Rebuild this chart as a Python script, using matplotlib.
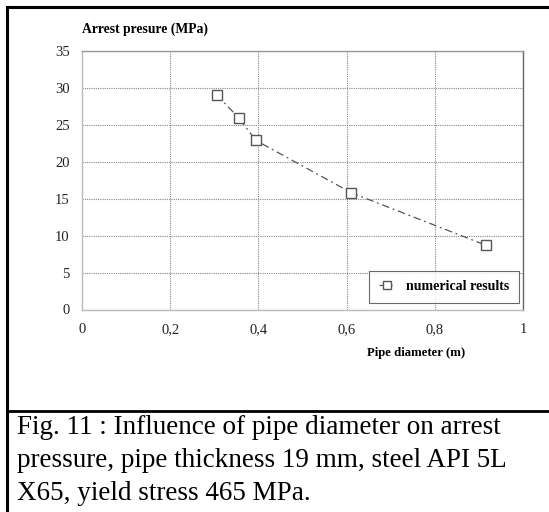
import matplotlib
matplotlib.use("Agg")
import matplotlib.pyplot as plt
from matplotlib.lines import Line2D

diameter = [0.305, 0.356, 0.394, 0.611, 0.916]
pressure = [29.1, 25.9, 22.9, 15.8, 8.7]
x_ticks = [0, 0.2, 0.4, 0.6, 0.8, 1.0]
x_tick_labels = ["0", "0,2", "0,4", "0,6", "0,8", "1"]
y_ticks = [0, 5, 10, 15, 20, 25, 30, 35]
series_label = "numerical results"
y_title = "Arrest presure (MPa)"
x_title = "Pipe diameter (m)"
caption = ["Fig. 11 : Influence of pipe diameter on arrest",
           "pressure, pipe thickness 19 mm, steel API 5L",
           "X65, yield stress 465 MPa."]

plt.rcParams['font.family'] = ['Liberation Serif', 'DejaVu Serif']

W, H = 549, 512
fig = plt.figure(figsize=(W / 100, H / 100), dpi=100)

def fx(px):
    return px / W

def fy(py):
    return 1 - py / H

ax_l, ax_r, ax_t, ax_b = 82, 523, 51, 309.5
ax = fig.add_axes([fx(ax_l), fy(ax_b), (ax_r - ax_l) / W, (ax_b - ax_t) / H])

ax.plot(diameter, pressure, linestyle=(0, (6, 3, 1.5, 3)), color="#555555", lw=0.9,
        marker="s", markersize=6.5, markerfacecolor="white", markeredgecolor="#555555",
        markeredgewidth=1.0, label=series_label, zorder=3)

ax.set_xlim(0, 1)
ax.set_ylim(0, 35)
ax.set_xticks(x_ticks)
ax.set_xticklabels(x_tick_labels)
ax.set_yticks(y_ticks)
ax.tick_params(length=0, labelsize=10.5, pad=10, colors="#222222")
ax.tick_params(axis="y", pad=9)
ax.grid(True, linestyle=(0, (1, 1)), color="#888888", lw=0.8)
for s in ["left", "bottom"]:
    ax.spines[s].set_color("#bbbbbb")
    ax.spines[s].set_linewidth(1.0)
ax.spines["top"].set_color("#999999")
ax.spines["right"].set_color("#666666")
ax.spines["top"].set_linewidth(1.0)
ax.spines["right"].set_linewidth(1.0)

leg = ax.legend(loc="lower right", bbox_to_anchor=((519 - ax_l) / (ax_r - ax_l), (ax_b - 303) / (ax_b - ax_t)),
                borderaxespad=0,
                prop={"family": "Liberation Serif", "weight": "bold", "size": 10},
                frameon=True, fancybox=False, edgecolor="#444444", borderpad=0.7,
                handlelength=1.2, handletextpad=0.75, markerscale=0.9)
leg.get_frame().set_linewidth(0.8)

fig.text(fx(82), fy(29), y_title, fontsize=9.8, fontweight="bold", va="center", ha="left")
fig.text(fx(465), fy(353), x_title, fontsize=9.2, fontweight="bold", va="center", ha="right")

# frame lines
fig.add_artist(Line2D([fx(7), fx(7)], [fy(7), fy(512)], color="black", lw=2.2))
fig.add_artist(Line2D([fx(7), fx(549)], [fy(7), fy(7)], color="black", lw=2.2))
fig.add_artist(Line2D([fx(7), fx(549)], [fy(411), fy(411)], color="black", lw=2.0))

for i, line in enumerate(caption):
    fig.text(fx(17), fy(434.5 + 32.5 * i), line, fontsize=19.5, va="baseline", ha="left", color="black")

fig.savefig("out.png", dpi=100)
